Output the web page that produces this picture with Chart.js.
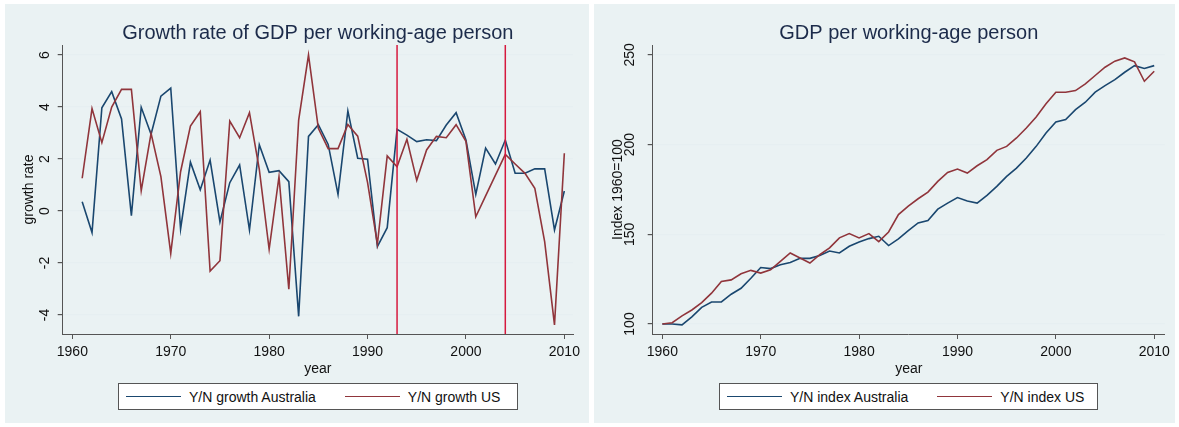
<!DOCTYPE html>
<html>
<head>
<meta charset="utf-8">
<script src="https://cdn.jsdelivr.net/npm/chart.js@4/dist/chart.umd.min.js"></script>
<style>
    body { margin: 0; background: #ffffff; width: 1179px; height: 427px; overflow: hidden; }
    .panel { position: absolute; background: #eaf2f3; }
    .panel canvas { position: absolute; left: 0; top: 0; }
    .legend {
        position: absolute; background: #ffffff; border: 1px solid #555;
        box-sizing: border-box; display: flex; align-items: center;
        font-family: 'Liberation Sans', Arial, sans-serif; font-size: 14px; color: #111;
    }
    .legend .item { display: flex; align-items: center; margin-right: 29px; }
    .legend .item:last-child { margin-right: 0; }
    .legend .swatch { display: inline-block; width: 55px; height: 0; border-top: 1.6px solid; margin-right: 8px; }
</style>
</head>
<body>
<div class="panel" id="panelL" style="left:5px;top:4px;width:584px;height:419px;">
    <canvas id="growthChart" width="584" height="419"></canvas>
    <div class="legend" id="legendL" style="left:113px;top:379px;width:400px;height:27px;padding-left:7px;"></div>
</div>
<div class="panel" id="panelR" style="left:594px;top:4px;width:581px;height:419px;">
    <canvas id="indexChart" width="581" height="419"></canvas>
    <div class="legend" id="legendR" style="left:125px;top:379px;width:379px;height:27px;padding-left:7px;"></div>
</div>
<script>
// growth rates, 1961-2010
const growthYears = [];
for (let y = 1961; y <= 2010; y++) growthYears.push(y);
const ausGrowth = [0.36, -0.83, 3.97, 4.59, 3.54, -0.18, 3.99, 2.95, 4.42, 4.73,
    -0.69, 1.88, 0.82, 1.96, -0.42, 1.09, 1.77, -0.73, 2.55, 1.49,
    1.55, 1.13, -4.05, 2.87, 3.32, 2.56, 0.64, 3.85, 2.03, 1.99,
    -1.37, -0.64, 3.14, 2.92, 2.67, 2.74, 2.71, 3.31, 3.78, 2.73,
    0.64, 2.42, 1.81, 2.73, 1.45, 1.45, 1.62, 1.62, -0.73, 0.77];
const usGrowth = [1.26, 3.94, 2.63, 4.0, 4.68, 4.68, 0.78, 2.99, 1.32, -1.63,
    1.51, 3.27, 3.82, -2.31, -1.91, 3.46, 2.82, 3.78, 1.6, -1.47,
    1.32, -3.01, 3.5, 6.0, 3.18, 2.4, 2.4, 3.33, 2.88, 1.1,
    -1.27, 2.12, 1.7, 2.76, 1.18, 2.35, 2.87, 2.82, 3.32, 2.68,
    -0.22, 0.58, 1.38, 2.18, 1.81, 1.45, 0.87, -1.18, -4.38, 2.22];

// index 1960=100
const indexYears = [];
for (let y = 1960; y <= 2010; y++) indexYears.push(y);
const ausIndex = [100, 100, 99.5, 104, 109.3, 112.3, 112.3, 116.6, 119.9, 125.5,
    131.5, 130.9, 133, 134.3, 136.6, 136.6, 138.2, 140.7, 139.6, 143.3,
    145.7, 147.6, 148.9, 143.7, 147.4, 152, 156.3, 157.7, 164, 167.4,
    170.5, 168.5, 167.4, 171.7, 176.7, 182.3, 186.9, 192.5, 199, 206.5,
    212.6, 213.9, 219.5, 223.6, 229.2, 232.9, 236.2, 240.3, 244, 242.4, 244];
const usIndex = [100, 100.7, 104.5, 107.8, 111.9, 117.2, 123.7, 124.6, 128, 129.9,
    128.4, 130.2, 134.9, 139.6, 136.8, 134, 138.6, 142.4, 148, 150.4,
    148, 150.4, 145.9, 151.3, 161, 165.7, 169.8, 173.5, 179.5, 184.5,
    186.4, 184.1, 188.2, 191.6, 196.8, 199, 203.7, 209.2, 215.4, 222.8,
    229.2, 229.2, 230.1, 233.8, 238.5, 243.1, 246.5, 248.3, 246.1, 235.3, 240.9];

const xTicks = [1960, 1970, 1980, 1990, 2000, 2010];
const growthTicks = [-4, -2, 0, 2, 4, 6];
const indexTicks = [100, 150, 200, 250];
const breakYears = [1993, 2004];

const navy = '#1a476f';
const maroon = '#90353b';

Chart.defaults.font.family = "'Liberation Sans', Arial, sans-serif";
Chart.defaults.font.size = 14;
Chart.defaults.color = '#111';

function pts(xs, ys) {
    return xs.map((x, i) => ({x: x, y: ys[i]}));
}

function lineSet(label, data, color, order) {
    return {
        label: label, data: data, borderColor: color, backgroundColor: color,
        borderWidth: 1.6, pointRadius: 0, tension: 0, order: order
    };
}

function makeScales(xmin, xmax, ymin, ymax, yTicks, yTitle, yWidth) {
    return {
        x: {
            type: 'linear', min: xmin, max: xmax,
            afterBuildTicks: s => { s.ticks = xTicks.map(v => ({value: v})); },
            afterFit: s => { s.height = 44; },
            ticks: { autoSkip: false, maxRotation: 0, padding: 5, color: '#111', callback: v => String(v) },
            grid: { drawOnChartArea: false, drawTicks: true, tickLength: 5, tickColor: '#555' },
            border: { display: true, color: '#555', width: 1 },
            title: { display: true, text: 'year', color: '#111', padding: {top: 0, bottom: 0} }
        },
        y: {
            min: ymin, max: ymax,
            afterBuildTicks: s => { s.ticks = yTicks.map(v => ({value: v})); },
            afterFit: s => { s.width = yWidth; },
            ticks: { autoSkip: false, minRotation: 90, maxRotation: 90, crossAlign: 'center', padding: 6, color: '#111' },
            grid: { color: '#e6eff1', lineWidth: 1.2, tickLength: 5, tickColor: '#555' },
            border: { display: true, color: '#555', width: 1 },
            title: { display: true, text: yTitle, color: '#111', padding: {top: 16, bottom: 0} }
        }
    };
}

const markLines = {
    id: 'markLines',
    afterDatasetsDraw(chart) {
        const {ctx, chartArea, scales} = chart;
        ctx.save();
        ctx.strokeStyle = '#d6193e';
        ctx.lineWidth = 1.5;
        breakYears.forEach(yr => {
            const px = scales.x.getPixelForValue(yr);
            ctx.beginPath();
            ctx.moveTo(px, chartArea.top);
            ctx.lineTo(px, chartArea.bottom);
            ctx.stroke();
        });
        ctx.restore();
    }
};

function titleOpts(text) {
    return {
        display: true, text: text, fullSize: false, color: '#1c2b4a',
        font: { size: 20, weight: 'normal' }, padding: {top: 17, bottom: 0}
    };
}

const growthChart = new Chart(document.getElementById('growthChart'), {
    type: 'line',
    data: {
        datasets: [
            lineSet('Y/N growth Australia', pts(growthYears, ausGrowth), navy, 1),
            lineSet('Y/N growth US', pts(growthYears, usGrowth), maroon, 0)
        ]
    },
    options: {
        responsive: false, animation: false,
        layout: { padding: {left: 0, right: 16, top: 0, bottom: 45} },
        plugins: { legend: { display: false }, tooltip: { enabled: false },
            title: titleOpts('Growth rate of GDP per working-age person') },
        scales: makeScales(1959.02, 2010.88, -4.73, 6.385, growthTicks, 'growth rate', 57.7)
    },
    plugins: [markLines]
});

const indexChart = new Chart(document.getElementById('indexChart'), {
    type: 'line',
    data: {
        datasets: [
            lineSet('Y/N index Australia', pts(indexYears, ausIndex), navy, 1),
            lineSet('Y/N index US', pts(indexYears, usIndex), maroon, 0)
        ]
    },
    options: {
        responsive: false, animation: false,
        layout: { padding: {left: 0, right: 10, top: 0, bottom: 45} },
        plugins: { legend: { display: false }, tooltip: { enabled: false },
            title: titleOpts('GDP per working-age person') },
        scales: makeScales(1959.02, 2011.09, 94.43, 255.5, indexTicks, 'Index 1960=100', 58.7)
    }
});

// legends built from the dataset labels
function buildLegend(chart, id) {
    const box = document.getElementById(id);
    chart.data.datasets.forEach(ds => {
        const item = document.createElement('div');
        item.className = 'item';
        const sw = document.createElement('span');
        sw.className = 'swatch';
        sw.style.borderTopColor = ds.borderColor;
        const txt = document.createElement('span');
        txt.textContent = ds.label;
        item.appendChild(sw);
        item.appendChild(txt);
        box.appendChild(item);
    });
}
buildLegend(growthChart, 'legendL');
buildLegend(indexChart, 'legendR');
</script>
</body>
</html>
